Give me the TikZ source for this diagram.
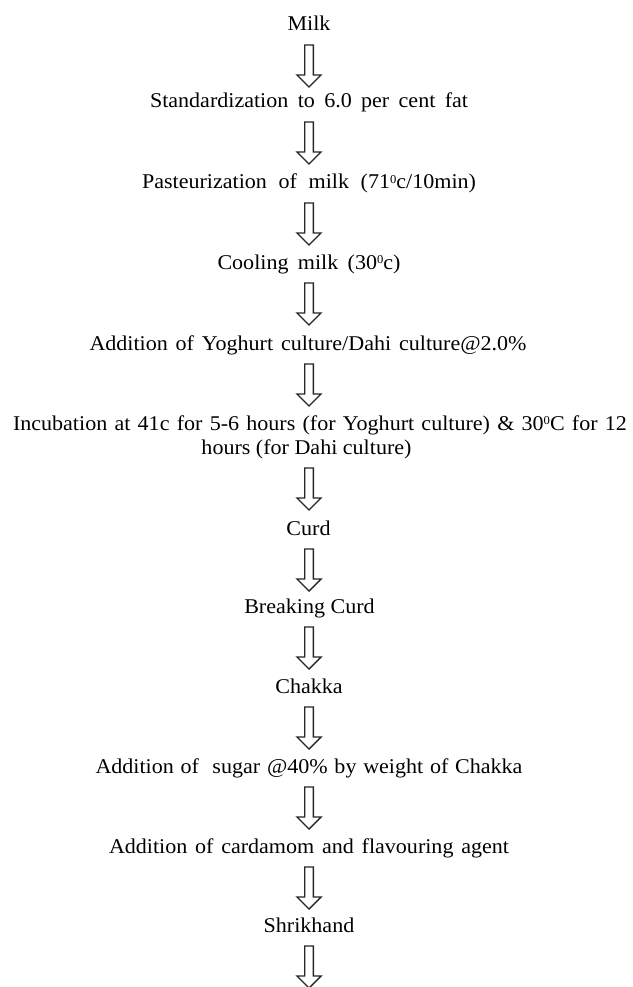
\documentclass[tikz,border=0pt]{standalone}
\usepackage{fontspec}
\setmainfont{Liberation Serif}[FakeStretch=1.05]
\usetikzlibrary{calc}
\tikzset{
  lbl/.style={inner sep=0pt, anchor=base, font=\fontsize{21}{25}\selectfont, text=black},
  arrline/.style={draw=black!85, line width=1.4pt, line join=miter, fill=white},
  darr/.pic={\path[arrline] (-4.3,0) -- (4.3,0) -- (4.3,30) -- (12,30) -- (0,42) -- (-12,30) -- (-4.3,30) -- cycle;}
}
\newcommand\wb[2]{\makebox[#1pt][s]{#2}}
\newcommand\supz{\raisebox{0.62ex}{\fontsize{12}{12}\selectfont 0}}
\begin{document}
\begin{tikzpicture}[x=1pt,y=-1pt]
\useasboundingbox (0,0) rectangle (632,987);
\node[lbl] (milk)  at (309,31)  {Milk};
\node[lbl] (std)   at (309,108) {\wb{318}{Standardization to 6.0 per cent fat}};
\node[lbl] (past)  at (309,189) {\wb{334}{Pasteurization of milk (71\supz c/10min)}};
\node[lbl] (cool)  at (309,269) {\wb{183}{Cooling milk (30\supz c)}};
\node[lbl] (yog)   at (308,350) {\wb{437}{Addition of Yoghurt culture/Dahi culture@2.0\%}};
\node[lbl] (inca)  at (320,430) {\wb{614}{Incubation at 41c for 5-6 hours (for Yoghurt culture) \& 30\supz C for 12}};
\node[lbl] (incb)  at (306.5,454) {hours (for Dahi culture)};
\node[lbl] (curd)  at (308.5,535) {Curd};
\node[lbl] (brk)   at (309.5,613) {Breaking Curd};
\node[lbl] (chk)   at (309,693) {Chakka};
\node[lbl] (sug)   at (309,773) {\wb{427}{Addition of\ \ sugar @40\% by weight of Chakka}};
\node[lbl] (card)  at (309,853) {\wb{400}{Addition of cardamom and flavouring agent}};
\node[lbl] (shri)  at (309,932) {Shrikhand};
\foreach \n in {milk,std,past,cool,yog,incb,curd,brk,chk,sug,card,shri}{
  \path (milk.base |- \n.base) ++(0,14) pic{darr};
}
\end{tikzpicture}
\end{document}
